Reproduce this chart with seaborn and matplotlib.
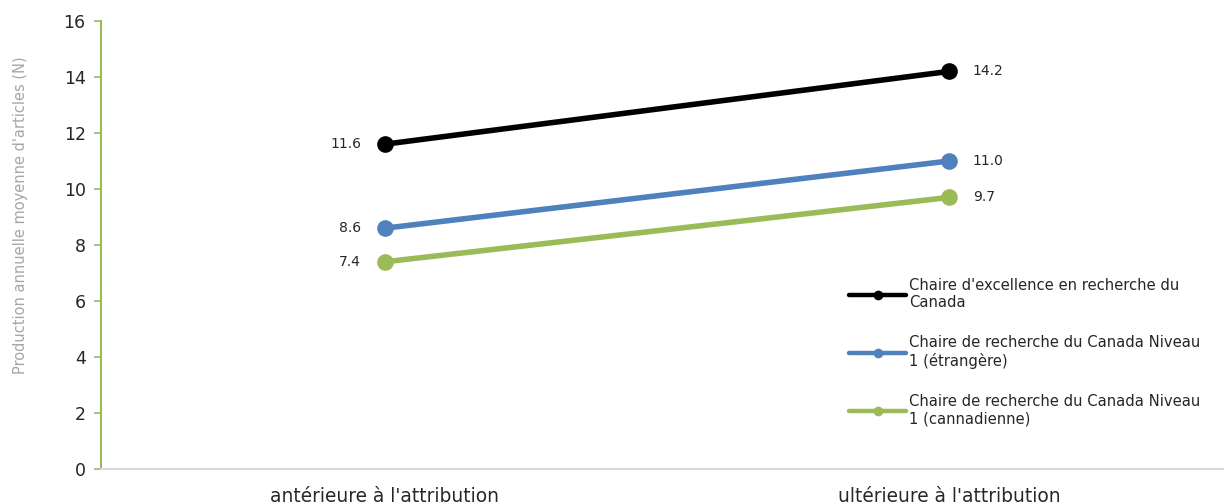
import matplotlib
matplotlib.use("Agg")
import matplotlib.pyplot as plt
import seaborn as sns
import pandas as pd

categories = ["antérieure à l'attribution", "ultérieure à l'attribution"]
series_names = [
    "Chaire d'excellence en recherche du Canada",
    "Chaire de recherche du Canada Niveau 1 (étrangère)",
    "Chaire de recherche du Canada Niveau 1 (cannadienne)",
]
legend_labels = [
    "Chaire d'excellence en recherche du\nCanada",
    "Chaire de recherche du Canada Niveau\n1 (étrangère)",
    "Chaire de recherche du Canada Niveau\n1 (cannadienne)",
]
values_excellence = [11.6, 14.2]
values_etrangere = [8.6, 11.0]
values_canadienne = [7.4, 9.7]
colors = ["#000000", "#4F81BD", "#9BBB59"]
yticks = [0, 2, 4, 6, 8, 10, 12, 14, 16]
ylabel = "Production annuelle moyenne d'articles (N)"

rows = []
for name, vals in zip(series_names, [values_excellence, values_etrangere, values_canadienne]):
    for c, v in zip(categories, vals):
        rows.append({"cat": c, "val": v, "series": name})
df = pd.DataFrame(rows)

sns.set_style("white")
plt.rcParams["font.family"] = ["DejaVu Sans"]

fig = plt.figure(figsize=(12.24, 5.04), dpi=100)
ax = fig.add_axes([101/1224, 35/504, 1 - 101/1224 - 0.001, (469-21)/504])

sns.lineplot(data=df, x="cat", y="val", hue="series", hue_order=series_names,
             palette=colors, marker="o", markersize=12, markeredgewidth=0,
             linewidth=4, ax=ax, legend=True, sort=False)

ax.set_xlim(-0.503, 1.485)
ax.set_ylim(0, 16)
ax.set_yticks(yticks)
ax.set_xlabel("")
ax.set_ylabel(ylabel, color="#A6A6A6", fontsize=10.5)
ax.yaxis.set_label_coords(-0.065, 0.566)
ax.tick_params(axis="y", labelsize=12.5, colors="#404040", length=5, width=1.2,
               direction="out", left=True, pad=6)
ax.tick_params(axis="y", color="#9BBB59")
ax.tick_params(axis="x", labelsize=13.4, colors="#404040", length=0, pad=13)
for lbl in ax.get_yticklabels():
    lbl.set_color("#262626")
for lbl in ax.get_xticklabels():
    lbl.set_color("#262626")

for s in ["top", "right"]:
    ax.spines[s].set_visible(False)
ax.spines["left"].set_color("#9BBB59")
ax.spines["left"].set_linewidth(1.5)
ax.spines["bottom"].set_color("#D9D9D9")
ax.spines["bottom"].set_linewidth(1.5)

for vals in [values_excellence, values_etrangere, values_canadienne]:
    ax.annotate(f"{vals[0]:.1f}", (0, vals[0]), xytext=(-17, 0), textcoords="offset points",
                ha="right", va="center", fontsize=10, color="#262626")
    ax.annotate(f"{vals[1]:.1f}", (1, vals[1]), xytext=(17, 0), textcoords="offset points",
                ha="left", va="center", fontsize=10, color="#262626")

handles, _ = ax.get_legend_handles_labels()
for h in handles:
    h.set_linewidth(3.2)
    h.set_markersize(7)
leg = ax.legend(handles, legend_labels, loc="upper left", bbox_to_anchor=(849/1224, 1 - 278/504),
                bbox_transform=fig.transFigure, frameon=False, fontsize=10.6,
                handlelength=3.9, handletextpad=0.15, labelspacing=1.7,
                borderaxespad=0, borderpad=0)
for t in leg.get_texts():
    t.set_color("#262626")

fig.savefig("out.png", dpi=100)
